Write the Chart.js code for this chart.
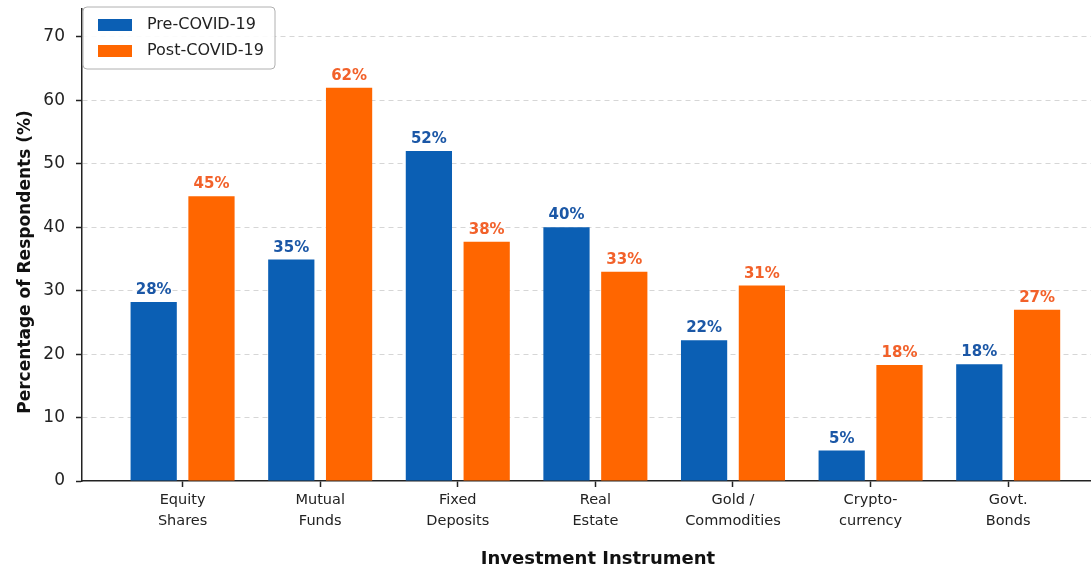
<!DOCTYPE html>
<html>
<head>
<meta charset="utf-8">
<script src="https://cdn.jsdelivr.net/npm/chart.js@4/dist/chart.umd.min.js"></script>
<style>
  html, body { margin: 0; padding: 0; background: #fff; overflow: hidden; }
  canvas { display: block; }
</style>
</head>
<body>
<canvas id="c" width="1114" height="568"></canvas>
<script>
  // values
  var categories = [
    ["Equity", "Shares"],
    ["Mutual", "Funds"],
    ["Fixed", "Deposits"],
    ["Real", "Estate"],
    ["Gold /", "Commodities"],
    ["Crypto-", "currency"],
    ["Govt.", "Bonds"]
  ];
  var preCovid = [28.2, 34.9, 52, 40, 22.2, 4.8, 18.4];
  var postCovid = [44.9, 62, 37.7, 33, 30.8, 18.3, 27];
  var seriesNames = ["Pre-COVID-19", "Post-COVID-19"];

  var BLUE = "#0b5fb4", ORANGE = "#ff6600";
  var BLUE_TXT = "#1b57a6", ORANGE_TXT = "#f2612a";
  var AXIS = "#222";
  var FONT = "'DejaVu Sans', sans-serif";

  function points(vals) {
    return vals.map(function(v, i) { return { x: i, y: v }; });
  }

  // percentage labels above each bar
  var valueLabels = {
    id: "valueLabels",
    afterDatasetsDraw: function(chart) {
      var ctx = chart.ctx;
      ctx.save();
      ctx.font = "bold 15px " + FONT;
      ctx.textAlign = "center";
      ctx.textBaseline = "alphabetic";
      chart.data.datasets.forEach(function(ds, di) {
        ctx.fillStyle = di === 0 ? BLUE_TXT : ORANGE_TXT;
        chart.getDatasetMeta(di).data.forEach(function(bar, i) {
          ctx.fillText(Math.round(ds.data[i].y) + "%", bar.x, bar.y - 8);
        });
      });
      ctx.restore();
    }
  };

  // legend box in the upper left corner of the plot
  var cornerLegend = {
    id: "cornerLegend",
    afterDraw: function(chart) {
      var ctx = chart.ctx;
      var x = 83, y = 7, w = 192, h = 62, r = 4;
      ctx.save();
      ctx.beginPath();
      ctx.moveTo(x + r, y);
      ctx.arcTo(x + w, y, x + w, y + h, r);
      ctx.arcTo(x + w, y + h, x, y + h, r);
      ctx.arcTo(x, y + h, x, y, r);
      ctx.arcTo(x, y, x + w, y, r);
      ctx.closePath();
      ctx.fillStyle = "rgba(255,255,255,0.9)";
      ctx.fill();
      ctx.lineWidth = 1;
      ctx.strokeStyle = "#b0b0b0";
      ctx.stroke();
      ctx.font = "16px " + FONT;
      ctx.textBaseline = "middle";
      chart.data.datasets.forEach(function(ds, di) {
        var cy = 25 + di * 26;
        ctx.fillStyle = ds.backgroundColor;
        ctx.fillRect(98, cy - 6, 34, 12);
        ctx.fillStyle = "#222";
        ctx.fillText(ds.label, 147, cy);
      });
      ctx.restore();
    }
  };

  // y title drawn by hand so it can sit a little below the axis middle, as in the picture
  var yTitle = {
    id: "yTitle",
    afterDraw: function(chart) {
      var ctx = chart.ctx;
      var a = chart.chartArea;
      ctx.save();
      ctx.translate(26, (a.top + a.bottom) / 2 + 17);
      ctx.rotate(-Math.PI / 2);
      ctx.font = "bold 17px " + FONT;
      ctx.fillStyle = "#111";
      ctx.textAlign = "center";
      ctx.textBaseline = "middle";
      ctx.fillText("Percentage of Respondents (%)", 0, 0);
      ctx.restore();
    }
  };

  new Chart(document.getElementById("c"), {
    type: "bar",
    data: {
      datasets: [
        { label: seriesNames[0], data: points(preCovid), backgroundColor: BLUE },
        { label: seriesNames[1], data: points(postCovid), backgroundColor: ORANGE }
      ]
    },
    options: {
      responsive: false,
      animation: false,
      categoryPercentage: 0.84,
      barPercentage: 0.8,
      layout: { padding: { top: 9, left: 0, right: 0, bottom: 0 } },
      plugins: {
        legend: { display: false },
        tooltip: { enabled: false }
      },
      scales: {
        x: {
          type: "linear",
          offset: false,
          min: -0.731,
          max: 6.769,
          afterFit: function(s) { s.height = 87; s.paddingLeft = 0; s.paddingRight = 0; },
          grid: {
            offset: false,
            drawOnChartArea: false,
            drawTicks: true,
            tickLength: 6,
            tickWidth: 1.5,
            tickColor: AXIS
          },
          border: { display: true, color: AXIS, width: 1.5 },
          ticks: {
            stepSize: 1,
            includeBounds: false,
            autoSkip: false,
            maxRotation: 0,
            padding: 3,
            color: "#222",
            font: { family: FONT, size: 14.5, lineHeight: 1.45 },
            callback: function(v) { return categories[v] || ""; }
          },
          title: {
            display: true,
            text: "Investment Instrument",
            color: "#111",
            font: { family: FONT, size: 18, weight: "bold", lineHeight: 1 },
            padding: { top: 0, bottom: 0 }
          }
        },
        y: {
          min: 0,
          max: 74.4,
          afterFit: function(s) { s.width = 82; s.paddingTop = 0; s.paddingBottom = 0; },
          grid: {
            color: function(c) { return c.tick && c.tick.value === 0 ? "rgba(0,0,0,0)" : "#d6d6d6"; },
            lineWidth: 1,
            drawTicks: true,
            tickLength: 6,
            tickWidth: 1.5,
            tickColor: AXIS
          },
          border: { display: true, color: AXIS, width: 1.5, dash: [5, 4] },
          ticks: {
            stepSize: 10,
            includeBounds: false,
            padding: 11,
            color: "#222",
            font: { family: FONT, size: 17 }
          }
        }
      }
    },
    plugins: [valueLabels, cornerLegend, yTitle]
  });
</script>
</body>
</html>
